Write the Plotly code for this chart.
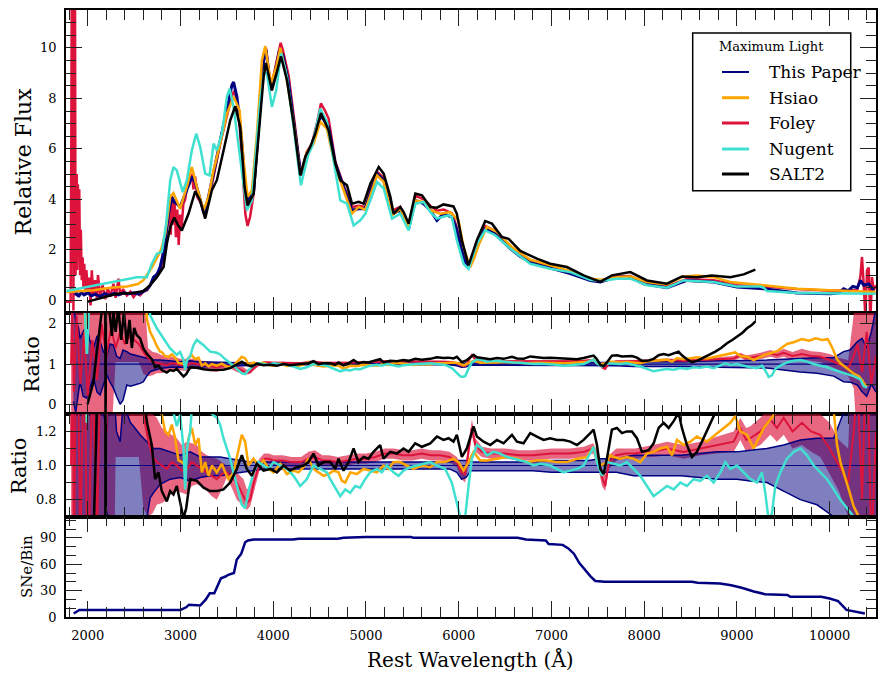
import plotly.graph_objects as go

# ---------------- Panel 1: relative flux at maximum light ----------------
paper_flux = [(1863,0.20),(1880,0.30),(1900,0.15),(1930,0.32),(1960,0.22),(2000,0.30),(2040,0.18),(2080,0.25),
    (2133,0.15),(2180,0.27),(2230,0.20),(2280,0.28),(2330,0.22),(2385,0.30),(2440,0.26),(2493,0.30),(2550,0.25),
    (2600,0.37),(2640,0.45),(2673,0.60),(2709,0.92),(2750,1.05),(2780,1.32),(2810,1.80),(2835,2.38),(2870,3.43),
    (2906,4.10),(2930,3.90),(2960,3.83),(2996,3.70),(3050,4.23),(3090,4.60),(3122,4.89),(3158,4.69),(3212,3.96),
    (3255,3.43),(3302,4.10),(3356,5.02),(3428,6.34),(3500,7.53),(3554,8.52),(3572,8.65),(3608,8.06),(3635,7.20),
    (3662,6.21),(3698,4.36),(3734,3.96),(3788,4.29),(3842,6.87),(3896,9.51),(3921,9.93),(3950,9.10),(3975,8.32),
    (4032,9.25),(4068,9.91),(4104,9.71),(4166,8.59),(4238,6.60),(4298,4.95),(4363,5.81),(4417,6.14),(4470,6.80),
    (4514,7.33),(4597,6.87),(4669,5.42),(4759,4.49),(4849,3.57),(4921,3.63),(4993,3.63),(5060,4.40),(5119,5.02),
    (5191,4.76),(5281,3.43),(5370,3.57),(5460,2.84),(5532,3.96),(5622,3.83),(5693,3.57),(5765,3.17),(5838,3.43),
    (5872,3.37),(5926,3.30),(5970,2.90),(6016,2.25),(6060,1.60),(6106,1.30),(6150,1.60),(6196,2.11),(6240,2.55),
    (6286,2.84),(6394,2.64),(6470,2.35),(6556,2.05),(6660,1.75),(6771,1.52),(6951,1.32),(7203,1.06),(7419,0.79),
    (7527,0.73),(7706,0.92),(7850,0.92),(7994,0.66),(8246,0.50),(8462,0.79),(8749,0.73),(9001,0.53),(9289,0.46),
    (9648,0.29),(10008,0.26),(10100,0.30),(10151,0.46),(10200,0.38),(10250,0.55),(10300,0.50),(10332,0.79),
    (10368,0.60),(10420,0.65),(10476,0.40)]

hsiao_flux = [(1770,0.33),(2061,0.40),(2241,0.50),(2421,0.55),(2540,0.65),(2600,0.80),(2690,1.30),(2744,1.70),
    (2790,2.00),(2835,2.64),(2889,4.10),(2924,4.25),(2960,3.95),(2996,3.63),(3068,4.49),(3122,5.28),(3176,4.49),
    (3248,3.57),(3302,4.10),(3356,5.15),(3428,6.21),(3500,7.40),(3572,8.06),(3637,7.53),(3680,5.55),(3723,4.10),
    (3770,4.36),(3824,6.60),(3878,9.51),(3914,10.07),(3940,9.40),(3975,8.59),(4032,9.25),(4076,10.00),(4130,9.11),
    (4220,7.00),(4291,4.95),(4363,5.88),(4435,6.21),(4507,7.07),(4579,6.80),(4669,5.28),(4759,4.36),(4849,3.43),
    (4921,3.70),(4993,3.59),(5060,4.30),(5119,4.95),(5191,4.69),(5281,3.37),(5370,3.63),(5460,2.91),(5532,3.96),
    (5622,3.90),(5693,3.57),(5800,3.43),(5908,3.50),(5998,3.17),(6052,2.11),(6124,1.32),(6170,1.70),(6214,2.18),
    (6304,2.91),(6412,2.71),(6574,2.11),(6771,1.61),(6987,1.39),(7203,1.16),(7419,0.86),(7527,0.82),(7706,0.92),
    (7850,0.95),(8030,0.73),(8246,0.63),(8426,0.95),(8569,0.99),(8749,0.92),(8929,0.73),(9289,0.60),(9648,0.46),
    (10008,0.40),(10497,0.33)]

foley_flux = [(1766,-0.05),(1815,-0.05),(1822,6.0),(1827,12.5),(1832,2.0),(1838,12.5),(1845,-0.4),(1850,12.5),
    (1856,4.0),(1862,12.5),(1868,1.0),(1875,3.5),(1881,5.0),(1887,1.2),(1893,4.6),(1900,2.0),(1908,4.4),(1917,1.0),
    (1925,2.8),(1935,0.8),(1945,1.7),(1953,0.5),(1962,1.45),(1975,0.3),(1985,1.2),(2000,0.4),(2015,0.9),(2030,-0.2),
    (2043,1.19),(2060,0.2),(2079,0.8),(2097,0.1),(2110,1.0),(2133,0.2),(2160,0.6),(2187,0.05),(2215,0.5),(2241,0.15),
    (2277,0.66),(2300,0.1),(2331,0.86),(2350,0.2),(2380,0.45),(2421,0.2),(2460,0.35),(2493,0.13),(2530,0.30),
    (2564,0.20),(2600,0.35),(2640,0.40),(2673,0.60),(2709,0.85),(2745,1.05),(2780,1.20),(2810,1.60),(2835,2.20),
    (2860,3.00),(2880,3.90),(2895,2.60),(2906,4.20),(2920,3.00),(2935,4.00),(2950,2.50),(2965,3.60),(2980,2.20),
    (2996,3.40),(3010,2.80),(3030,3.80),(3050,4.00),(3075,4.60),(3100,4.80),(3122,5.00),(3140,4.40),(3158,4.90),
    (3180,4.10),(3212,3.90),(3255,3.50),(3302,4.00),(3356,4.90),(3428,6.20),(3500,7.30),(3554,8.10),(3580,8.30),
    (3608,7.90),(3640,6.80),(3670,5.00),(3700,3.40),(3723,2.95),(3750,3.30),(3788,4.20),(3842,6.80),(3896,9.60),
    (3921,10.00),(3950,9.20),(3975,8.40),(4032,9.40),(4080,10.20),(4104,9.90),(4166,8.90),(4238,6.80),(4298,4.95),
    (4363,5.90),(4417,6.20),(4470,7.00),(4514,7.80),(4560,7.50),(4597,7.20),(4669,5.50),(4759,4.55),(4849,3.70),
    (4921,3.75),(4993,3.70),(5060,4.50),(5119,5.10),(5191,4.85),(5281,3.55),(5370,3.70),(5460,2.95),(5532,4.15),
    (5622,4.00),(5693,3.75),(5765,3.55),(5838,3.60),(5926,3.45),(5970,3.00),(6016,2.30),(6060,1.65),(6106,1.30),
    (6150,1.60),(6196,2.20),(6240,2.65),(6286,2.95),(6394,2.75),(6470,2.45),(6556,2.15),(6660,1.85),(6771,1.60),
    (6951,1.40),(7203,1.12),(7419,0.85),(7527,0.75),(7706,0.95),(7850,0.97),(7994,0.72),(8246,0.55),(8462,0.85),
    (8749,0.80),(9001,0.60),(9289,0.55),(9648,0.45),(10008,0.38),(10200,0.40),(10295,0.40),(10331,0.92),
    (10349,1.72),(10367,0.66),(10385,-0.66),(10403,1.19),(10421,1.30),(10439,-0.80),(10457,0.92),(10475,0.40),
    (10500,0.60)]

nugent_flux = [(1770,0.37),(2133,0.63),(2529,0.92),(2637,0.92),(2691,1.45),(2745,1.85),(2799,1.92),(2845,3.04),
    (2889,4.76),(2924,5.28),(2960,5.15),(3024,4.29),(3068,4.76),(3122,5.94),(3169,6.60),(3212,6.08),(3266,5.02),
    (3313,4.95),(3356,6.21),(3392,5.94),(3446,6.60),(3500,8.06),(3529,8.39),(3572,7.66),(3626,6.08),(3680,4.49),
    (3716,3.57),(3770,3.96),(3806,5.68),(3860,7.93),(3903,9.05),(3932,8.98),(3986,7.66),(4032,8.32),(4083,9.78),
    (4148,8.85),(4220,6.87),(4298,4.56),(4381,5.81),(4417,6.08),(4507,7.60),(4579,7.07),(4651,5.55),(4723,3.96),
    (4795,3.83),(4867,2.97),(4939,3.17),(4993,3.43),(5119,4.69),(5191,4.43),(5281,3.24),(5370,3.43),(5460,2.77),
    (5532,3.83),(5622,3.90),(5693,3.50),(5765,3.24),(5890,3.37),(5926,3.30),(5980,2.38),(6052,1.45),(6106,1.25),
    (6196,2.25),(6286,2.77),(6394,2.58),(6556,2.05),(6771,1.45),(6987,1.25),(7203,1.12),(7419,0.82),(7527,0.77),
    (7706,0.86),(7850,0.86),(8030,0.60),(8246,0.50),(8426,0.79),(8749,0.73),(9001,0.55),(9253,0.55),(9290,0.50),
    (9324,0.37),(9648,0.29),(10497,0.26)]

salt2_flux = [(2000,-0.05),(2133,0.09),(2313,0.26),(2493,0.29),(2600,0.37),(2673,0.60),(2745,0.92),(2817,1.32),
    (2853,2.25),(2889,2.90),(2932,3.28),(2970,3.00),(3014,2.77),(3086,3.43),(3158,4.32),(3212,3.96),(3266,3.24),
    (3338,4.36),(3392,4.76),(3464,5.94),(3536,7.13),(3590,7.69),(3644,6.87),(3691,4.49),(3723,3.76),(3788,4.23),
    (3842,6.60),(3896,8.85),(3921,9.40),(3986,8.32),(4040,9.05),(4083,9.67),(4148,8.72),(4220,7.00),(4291,4.95),
    (4345,5.68),(4399,6.08),(4453,6.60),(4514,7.42),(4597,6.74),(4669,5.42),(4723,4.76),(4795,4.56),(4849,3.83),
    (4921,3.90),(4975,3.83),(5047,4.62),(5137,5.28),(5191,5.02),(5263,4.10),(5298,3.43),(5370,3.70),(5406,3.50),
    (5460,3.04),(5532,4.23),(5604,4.16),(5694,3.70),(5765,3.67),(5836,3.80),(5944,3.72),(5980,3.43),(6034,2.38),
    (6106,1.39),(6196,2.38),(6286,3.14),(6358,3.04),(6466,2.51),(6538,2.44),(6664,1.96),(6843,1.65),(6987,1.45),
    (7167,1.32),(7347,0.99),(7527,0.73),(7652,0.99),(7850,1.12),(8030,0.79),(8246,0.66),(8408,0.95),(8569,0.92),
    (8731,0.99),(8929,0.92),(9073,1.03),(9199,1.22)]

# ---------------- Panels 2 & 3: ratio to "This Paper" ----------------
# (wavelength, upper, lower) of the This Paper uncertainty band
paper_band = [(1845,2.4,0.07),(1870,2.1,-0.2),(1900,1.9,0.3),(1917,1.64,0.56),(1950,1.8,0.2),(1989,1.97,0.15),
    (2020,1.6,0.4),(2061,1.39,0.65),(2100,1.7,0.3),(2133,1.56,0.23),(2170,1.3,0.5),(2205,1.22,0.73),(2240,1.5,0.55),
    (2277,1.47,0.4),(2310,1.2,0.2),(2349,1.14,0.0),(2380,1.35,0.1),(2421,1.31,0.48),(2460,1.25,0.45),(2493,1.23,0.48),
    (2530,1.2,0.5),(2564,1.18,0.52),(2600,1.16,0.56),(2636,1.14,0.7),(2672,1.12,0.81),(2708,1.1,0.84),(2780,1.1,0.89),
    (2888,1.08,0.92),(2996,1.06,0.93),(3104,1.08,0.91),(3212,1.05,0.93),(3320,1.05,0.94),(3427,1.05,0.94),
    (3535,1.04,0.95),(3643,1.03,0.96),(3751,1.02,0.97),(3900,1.02,0.98),(4500,1.02,0.98),(5200,1.02,0.98),
    (5900,1.02,0.98),(5980,1.03,0.96),(6030,1.03,0.92),(6080,1.03,0.93),(6130,1.02,0.97),(6400,1.02,0.97),
    (6800,1.02,0.97),(7000,1.03,0.96),(7400,1.03,0.96),(7526,1.04,0.96),(7700,1.04,0.96),(7886,1.06,0.94),
    (8400,1.06,0.94),(8785,1.08,0.92),(9000,1.08,0.92),(9145,1.09,0.91),(9324,1.1,0.9),(9504,1.12,0.85),
    (9684,1.15,0.8),(9864,1.16,0.77),(10044,1.16,0.7),(10150,1.31,0.56),(10220,1.35,0.55),(10300,1.56,0.48),
    (10350,1.64,0.31),(10400,1.4,0.2),(10450,1.8,0.5),(10500,2.4,0.3)]

# (wavelength, ratio, lower, upper) for Foley
foley_ratio = [(1820,1.0,-1,3),(1830,2.5,-1,3),(1850,0.3,-1,3),(1880,2.2,-1,3),(1920,0.5,-1,3),(1960,1.8,-1,3),
    (2000,0.2,-1,3),(2050,1.6,-1,3),(2100,0.6,-1,3),(2150,2.0,-1,3),(2200,1.2,-1,3),(2250,1.9,-1,3),
    (2300,1.4,1.05,3),(2350,1.8,1.05,3),(2400,1.5,1.05,3),(2450,1.7,1.05,3),(2500,1.6,1.05,3),(2550,1.5,1.05,3),
    (2600,1.3,0.75,3),(2650,1.15,0.7,1.4),(2700,1.05,0.72,1.3),(2744,1.02,0.77,1.28),(2800,1.0,0.78,1.22),
    (2852,0.98,0.8,1.2),(2906,1.02,0.84,1.18),(2960,1.0,0.85,1.16),(3014,0.97,0.84,1.12),(3068,0.98,0.83,1.14),
    (3122,1.02,0.88,1.13),(3176,1.0,0.89,1.12),(3230,0.98,0.88,1.08),(3284,0.96,0.85,1.06),(3338,0.94,0.82,1.05),
    (3391,0.92,0.8,1.04),(3445,0.95,0.86,1.02),(3499,0.96,0.93,1.0),(3553,0.93,0.87,0.99),(3607,0.9,0.8,0.96),
    (3643,0.86,0.78,0.94),(3679,0.82,0.77,0.92),(3715,0.78,0.74,0.86),(3751,0.8,0.76,0.88),(3790,0.9,0.85,0.96),
    (3850,1.0,0.97,1.04),(3900,1.04,1.01,1.07),(3950,1.04,1.01,1.07),(4000,1.03,1.0,1.06),(4100,1.03,1.0,1.06),
    (4200,1.02,0.99,1.05),(4300,1.02,0.99,1.05),(4380,1.04,1.01,1.08),(4450,1.05,1.02,1.09),(4530,1.03,1.0,1.06),
    (4600,1.03,1.0,1.06),(4700,1.02,0.99,1.05),(4800,1.03,1.0,1.06),(4900,1.04,1.01,1.07),(5000,1.04,1.01,1.07),
    (5100,1.05,1.02,1.08),(5200,1.07,1.04,1.1),(5300,1.07,1.04,1.1),(5400,1.06,1.03,1.09),(5500,1.06,1.03,1.09),
    (5600,1.07,1.04,1.1),(5700,1.06,1.03,1.09),(5800,1.06,1.03,1.09),(5900,1.05,1.02,1.08),(5980,1.02,0.99,1.05),
    (6030,0.96,0.92,1.0),(6070,0.95,0.9,0.99),(6110,1.1,1.05,1.15),(6142,1.22,1.18,1.27),(6180,1.12,1.08,1.16),
    (6250,1.08,1.05,1.11),(6350,1.07,1.04,1.1),(6500,1.07,1.04,1.1),(6650,1.06,1.03,1.09),(6800,1.06,1.03,1.09),
    (7000,1.07,1.04,1.1),(7200,1.07,1.04,1.1),(7350,1.08,1.05,1.11),(7450,1.1,1.07,1.13),(7500,1.04,1.0,1.08),
    (7545,0.93,0.88,0.98),(7580,0.88,0.85,0.95),(7620,1.02,0.98,1.06),(7700,1.06,1.03,1.1),(7800,1.07,1.04,1.1),
    (7900,1.07,1.04,1.1),(8000,1.08,1.05,1.11),(8100,1.08,1.05,1.12),(8246,1.1,1.06,1.14),(8425,1.08,1.04,1.12),
    (8605,1.1,1.06,1.14),(8785,1.12,1.07,1.17),(8965,1.14,1.08,1.2),(9037,1.22,1.15,1.28),(9100,1.15,1.08,1.22),
    (9145,1.16,1.09,1.23),(9253,1.2,1.12,1.28),(9360,1.27,1.18,1.35),(9432,1.22,1.14,1.3),(9504,1.28,1.18,1.38),
    (9600,1.2,1.1,1.3),(9700,1.25,1.12,1.38),(9800,1.2,1.08,1.32),(9900,1.18,1.05,1.3),(10000,1.1,0.95,1.25),
    (10100,1.0,0.85,1.15),(10200,0.9,0.7,1.1),(10260,1.2,0.4,2.0),(10300,1.5,-1,3),(10350,0.8,-1,3),
    (10400,1.8,-1,3),(10450,0.5,-1,3),(10500,1.2,-1,3)]

hsiao_ratio = [(1950,3.0),(1990,1.25),(2010,3.0),(2620,3.0),(2636,2.14),(2672,1.8),(2708,1.64),(2744,1.45),
    (2780,1.31),(2798,1.30),(2834,1.2),(2870,1.18),(2906,1.24),(2942,1.16),(2978,1.03),(3014,1.02),(3050,1.0),
    (3086,1.16),(3122,1.22),(3158,1.12),(3194,1.16),(3230,0.96),(3266,1.02),(3302,0.94),(3338,1.0),(3391,0.96),
    (3445,1.01),(3481,0.96),(3517,0.92),(3571,0.96),(3625,1.1),(3661,1.18),(3697,1.14),(3733,1.0),(3787,1.04),
    (3841,1.0),(3895,1.03),(3949,0.98),(4003,0.96),(4075,1.01),(4147,0.95),(4219,0.97),(4272,0.96),(4326,0.99),
    (4380,1.04),(4434,0.98),(4488,0.96),(4542,0.94),(4596,0.95),(4650,0.97),(4704,0.96),(4740,0.91),(4776,0.9),
    (4830,0.96),(4901,0.95),(4973,0.98),(5045,0.97),(5117,0.96),(5189,1.0),(5243,0.98),(5297,1.02),(5369,1.02),
    (5441,1.0),(5513,0.98),(5603,1.0),(5693,0.99),(5765,1.02),(5854,1.02),(5944,1.04),(5998,1.02),(6052,0.97),
    (6106,1.02),(6160,1.08),(6232,1.03),(6304,1.03),(6412,1.04),(6520,1.05),(6628,1.04),(6735,1.02),(6843,1.03),
    (6951,1.03),(7059,1.02),(7167,1.02),(7275,1.04),(7383,1.05),(7455,1.11),(7491,1.02),(7527,1.0),(7598,1.02),
    (7634,1.06),(7670,1.05),(7742,1.04),(7814,1.05),(7886,1.04),(7958,1.02),(8030,1.07),(8102,1.08),(8174,1.1),
    (8246,1.11),(8300,1.06),(8354,1.15),(8425,1.12),(8497,1.14),(8569,1.17),(8677,1.14),(8767,1.18),(8857,1.22),
    (8929,1.25),(8983,1.29),(9037,1.2),(9109,1.18),(9181,1.1),(9217,1.14),(9289,1.22),(9360,1.27),(9432,1.32),
    (9540,1.5),(9620,1.55),(9700,1.62),(9780,1.58),(9850,1.64),(9920,1.6),(9980,1.62),(10030,1.4),(10080,1.12),
    (10116,1.02),(10152,0.96),(10206,0.86),(10260,0.76),(10314,0.7),(10350,0.6),(10385,0.45),(10400,0.5)]

nugent_ratio = [(1845,3.0),(1960,3.0),(1975,2.0),(1990,1.25),(2005,2.0),(2020,3.0),(2636,3.0),(2672,2.22),
    (2744,1.89),(2816,1.64),(2888,1.39),(2960,1.23),(2996,1.3),(3032,1.1),(3050,0.86),(3070,1.1),(3104,1.2),
    (3140,1.47),(3176,1.6),(3248,1.47),(3320,1.31),(3391,1.28),(3427,1.24),(3463,1.16),(3499,1.1),(3535,1.04),
    (3571,0.96),(3607,0.88),(3661,0.77),(3697,0.75),(3733,0.85),(3787,0.96),(3841,1.02),(3895,1.0),(3949,0.98),
    (4003,1.02),(4075,1.0),(4147,0.98),(4219,0.94),(4290,0.88),(4362,0.92),(4434,1.0),(4506,0.98),(4578,0.96),
    (4614,0.92),(4668,0.87),(4722,0.82),(4776,0.86),(4830,0.84),(4884,0.88),(4937,0.87),(4991,0.92),(5045,0.96),
    (5117,0.98),(5171,0.96),(5225,1.0),(5297,0.96),(5351,0.94),(5405,0.97),(5477,0.99),(5549,1.0),(5621,1.01),
    (5693,1.02),(5765,1.0),(5854,0.98),(5926,0.9),(5980,0.79),(6016,0.7),(6040,0.68),(6070,0.7),(6106,0.88),
    (6142,1.04),(6196,1.12),(6250,1.1),(6304,1.06),(6376,1.08),(6448,1.07),(6520,1.05),(6592,1.04),(6663,1.03),
    (6735,1.02),(6807,1.0),(6879,1.01),(6987,1.0),(7059,0.98),(7131,0.96),(7203,0.97),(7275,0.98),(7347,1.0),
    (7419,1.08),(7455,1.11),(7491,1.02),(7545,0.94),(7598,1.02),(7670,1.01),(7742,1.0),(7814,1.02),(7886,0.98),
    (7958,0.94),(8030,0.88),(8102,0.82),(8174,0.85),(8246,0.88),(8318,0.86),(8390,0.9),(8461,0.88),(8533,0.92),
    (8605,0.91),(8677,0.94),(8749,0.9),(8821,0.96),(8875,1.02),(8929,0.98),(9001,1.0),(9073,0.96),(9145,0.92),
    (9217,0.9),(9270,0.96),(9306,0.84),(9342,0.68),(9378,0.72),(9414,0.88),(9468,0.96),(9540,1.04),(9612,1.08),
    (9684,1.1),(9756,1.06),(9828,1.0),(9900,0.96),(9972,0.92),(10044,0.86),(10116,0.8),(10188,0.75),(10260,0.7),
    (10332,0.62),(10368,0.45),(10404,0.42)]

salt2_ratio = [(1997,0.0),(2030,0.3),(2061,0.56),(2097,1.31),(2133,2.0),(2160,2.6),(2188,3.0),(2192,-1.0),
    (2196,3.0),(2230,2.4),(2260,1.7),(2277,2.3),(2300,1.8),(2330,2.4),(2360,1.6),(2390,2.3),(2420,1.5),(2450,2.1),
    (2475,1.4),(2500,1.9),(2528,1.72),(2564,1.64),(2600,1.39),(2643,1.24),(2690,1.12),(2726,0.92),(2762,0.96),
    (2798,0.85),(2852,0.79),(2888,0.85),(2924,0.83),(2960,0.88),(2996,0.79),(3032,0.69),(3061,0.75),(3104,0.92),
    (3176,0.91),(3248,0.87),(3320,0.85),(3391,0.85),(3463,0.86),(3535,0.9),(3607,0.98),(3661,1.06),(3715,0.98),
    (3769,0.94),(3823,1.01),(3895,0.97),(3967,0.98),(4039,0.96),(4111,1.0),(4182,0.97),(4254,0.99),(4326,1.0),
    (4380,1.02),(4434,1.07),(4488,1.0),(4542,1.02),(4614,1.02),(4668,0.98),(4704,1.04),(4758,0.97),(4812,1.02),
    (4866,1.1),(4919,1.02),(4973,1.05),(5027,1.04),(5081,1.08),(5153,1.12),(5189,1.04),(5261,1.08),(5333,1.07),
    (5405,1.1),(5459,1.08),(5531,1.13),(5603,1.11),(5693,1.13),(5765,1.17),(5836,1.15),(5890,1.16),(5944,1.14),
    (5980,1.18),(6034,1.05),(6088,1.1),(6160,1.23),(6196,1.17),(6268,1.14),(6340,1.12),(6412,1.15),(6484,1.13),
    (6574,1.18),(6628,1.14),(6699,1.13),(6771,1.19),(6843,1.17),(6915,1.15),(6987,1.16),(7059,1.15),(7131,1.15),
    (7203,1.14),(7275,1.12),(7347,1.15),(7419,1.19),(7455,1.21),(7491,1.12),(7527,0.98),(7562,0.95),(7598,1.04),
    (7652,1.21),(7706,1.22),(7760,1.19),(7814,1.2),(7868,1.2),(7922,1.16),(7976,1.08),(8048,1.09),(8102,1.13),
    (8156,1.22),(8210,1.25),(8264,1.22),(8318,1.26),(8371,1.31),(8407,1.22),(8461,1.12),(8515,1.05),(8569,1.08),
    (8623,1.14),(8677,1.2),(8731,1.26),(8767,1.31),(8830,1.4),(8893,1.52),(8950,1.6),(9001,1.68),(9060,1.78),
    (9109,1.89),(9160,1.97),(9199,2.06)]

# ---------------- Panel 4: number of SNe per bin ----------------
sne_per_bin = [(1848,4),(1909,8),(3000,8),(3061,11),(3091,14),(3212,13),(3273,20),(3315,27),(3364,27),(3394,35),
    (3436,44),(3485,46),(3515,48),(3576,50),(3606,65),(3655,72),(3697,85),(3727,87),(3788,88),(4212,88),(4273,89),
    (4697,89),(4758,90),(5000,91),(5485,91),(5515,90),(6636,90),(6727,88),(6939,87),(6970,83),(7121,82),(7182,78),
    (7242,72),(7303,61),(7364,53),(7424,46),(7473,41),(7576,40),(8515,40),(8576,39),(8818,38),(8939,36),(9061,33),
    (9182,29),(9303,26),(9545,25),(9576,23),(9909,23),(10000,21),(10091,18),(10182,8),(10242,7),(10333,5),(10380,4)]

legend_title = "Maximum Light"
series_names = ["This Paper", "Hsiao", "Foley", "Nugent", "SALT2"]

# ---------------- styling ----------------
FONT = "DejaVu Serif"
NAVY, ORANGE, CRIMSON, TURQ, BLACK = "#000080", "#FFA500", "#DC143C", "#40E0D0", "#000000"
COLORS = dict(zip(series_names, [NAVY, ORANGE, CRIMSON, TURQ, BLACK]))
XR = [1765, 10500]


def cols(pts, i):
    return [p[i] for p in pts]


fig = go.Figure()


def line(pts, color, width, xa, ya, yi=1):
    fig.add_trace(go.Scatter(x=cols(pts, 0), y=cols(pts, yi), mode="lines",
                             line=dict(color=color, width=width), xaxis=xa, yaxis=ya,
                             showlegend=False, hoverinfo="skip"))


# Panel 1
line(foley_flux, CRIMSON, 2.5, "x", "y")
line(paper_flux, NAVY, 3, "x", "y")
line(hsiao_flux, ORANGE, 2.5, "x", "y")
line(nugent_flux, TURQ, 2.5, "x", "y")
line(salt2_flux, BLACK, 2.5, "x", "y")

# Panels 2 and 3 (same ratios, different y ranges)
for xa, ya in (("x2", "y2"), ("x3", "y3")):
    fx = cols(foley_ratio, 0)
    fig.add_trace(go.Scatter(x=fx + fx[::-1], y=cols(foley_ratio, 3) + cols(foley_ratio, 2)[::-1],
                             fill="toself", fillcolor="rgba(220,20,60,0.65)", line=dict(width=0),
                             mode="lines", xaxis=xa, yaxis=ya, showlegend=False, hoverinfo="skip"))
    bx = cols(paper_band, 0)
    fig.add_trace(go.Scatter(x=bx + bx[::-1], y=cols(paper_band, 1) + cols(paper_band, 2)[::-1],
                             fill="toself", fillcolor="rgba(0,0,128,0.5)", line=dict(width=0),
                             mode="lines", xaxis=xa, yaxis=ya, showlegend=False, hoverinfo="skip"))
    line(paper_band, NAVY, 1.5, xa, ya, 1)
    line(paper_band, NAVY, 1.5, xa, ya, 2)
    fig.add_trace(go.Scatter(x=bx, y=[1.0] * len(bx), mode="lines", line=dict(color=NAVY, width=1.2),
                             xaxis=xa, yaxis=ya, showlegend=False, hoverinfo="skip"))
    line(foley_ratio, CRIMSON, 2, xa, ya, 1)
    line(hsiao_ratio, ORANGE, 2.5, xa, ya)
    line(nugent_ratio, TURQ, 2.5, xa, ya)
    line(salt2_ratio, BLACK, 2.5, xa, ya)

# Panel 4
line(sne_per_bin, NAVY, 2.5, "x4", "y4")

tickcol = "#222"


def xaxis(anchor, labels):
    return dict(range=XR, anchor=anchor, domain=[0, 1], showline=True, linecolor="black", linewidth=1.5,
                mirror="allticks", ticks="inside", ticklen=16, tickwidth=1, tickcolor=tickcol,
                tick0=0, dtick=1000, tickformat="d", showticklabels=labels, showgrid=False, zeroline=False,
                automargin=False,
                tickfont=dict(family=FONT, size=13, color="black"), ticklabelstandoff=6,
                minor=dict(tick0=0, dtick=200, ticks="inside", ticklen=10, tickwidth=1, tickcolor=tickcol,
                           showgrid=False))


def yaxis(anchor, dom, rng, dtick, mdtick, fmt=None):
    d = dict(range=rng, anchor=anchor, domain=dom, showline=True, linecolor="black", linewidth=1.5,
             mirror="allticks", ticks="inside", ticklen=16, tickwidth=1, tickcolor=tickcol,
             tick0=0, dtick=dtick, showgrid=False, zeroline=False, automargin=False,
             tickfont=dict(family=FONT, size=13, color="black"), ticklabelstandoff=5,
             minor=dict(tick0=0, dtick=mdtick, ticks="inside", ticklen=10, tickwidth=1, tickcolor=tickcol,
                        showgrid=False))
    if fmt:
        d["tickformat"] = fmt
    return d


fig.update_layout(
    template="none",
    width=886, height=683, margin=dict(l=66, r=10, t=10, b=66, autoexpand=False),
    paper_bgcolor="white", plot_bgcolor="white", showlegend=False, hovermode=False,
    xaxis=xaxis("y", False), xaxis2=xaxis("y2", False), xaxis3=xaxis("y3", False), xaxis4=xaxis("y4", True),
    yaxis=yaxis("x", [0.5008, 1.0], [-0.5, 11.5], 2, 0.5),
    yaxis2=yaxis("x2", [0.3339, 0.5008], [-0.25, 2.27], 1, 0.5),
    yaxis3=yaxis("x3", [0.1652, 0.3339], [0.7, 1.3], 0.2, 0.1, ".1f"),
    yaxis4=yaxis("x4", [0.0, 0.1652], [0, 114], 30, 10),
)

ann = []


def text(s, x, y, size, angle=0, xanchor="center"):
    ann.append(dict(text=s, x=x, y=y, xref="paper", yref="paper", showarrow=False, textangle=angle,
                    xanchor=xanchor, yanchor="middle", font=dict(family=FONT, size=size, color="black")))


text("Relative Flux", -0.052, 0.7504, 22, -90)
text("Ratio", -0.042, 0.4173, 21, -90)
text("Ratio", -0.057, 0.2496, 21, -90)
text("SNe/Bin", -0.048, 0.0824, 15, -90)
text("Rest Wavelength (Å)", 0.4988, -0.0708, 20)

# legend box (drawn by hand to match the reference layout)
shapes = [dict(type="rect", xref="paper", yref="paper", x0=0.7737, x1=0.9688, y0=0.7023, y1=0.9621,
               line=dict(color="black", width=1.5), fillcolor="white", layer="above")]
text(legend_title, 0.8704, 0.9395, 13)
entry_y = [0.8979, 0.8555, 0.8138, 0.7710, 0.7298]
widths = [2, 3, 3, 3, 3]
for name, yy, w in zip(series_names, entry_y, widths):
    shapes.append(dict(type="line", xref="paper", yref="paper", x0=0.8099, x1=0.8432, y0=yy, y1=yy,
                       line=dict(color=COLORS[name], width=w), layer="above"))
    text(name, 0.8654, yy, 17, 0, "left")

fig.update_layout(annotations=ann, shapes=shapes)
# the page's default 8px body margin would shift the figure inside the 886x683 window
fig.write_html("out.html", config={"displayModeBar": False},
               post_script="document.body.style.margin='0';document.body.style.overflow='hidden';")
